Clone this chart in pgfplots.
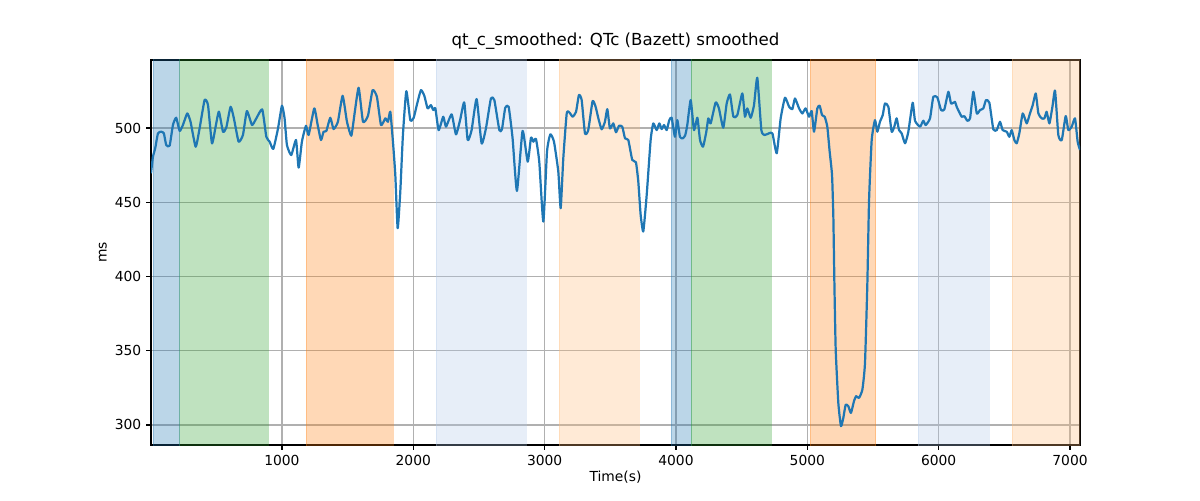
\documentclass[border=0pt]{standalone}
\usepackage{pgfplots}
\pgfplotsset{compat=1.18}
\usepackage{fontspec}
\setmainfont{DejaVu Sans}
\definecolor{tabblue}{HTML}{1F77B4}
\definecolor{tabgreen}{HTML}{2CA02C}
\definecolor{taborange}{HTML}{FF7F0E}
\definecolor{ltblue}{HTML}{AEC7E8}
\definecolor{ltorange}{HTML}{FFBB78}
\definecolor{gridgray}{HTML}{B0B0B0}
\begin{document}
\begin{tikzpicture}
\begin{axis}[
  scale only axis,
  width=9.29in, height=3.85in,
  xmin=3, xmax=7076, ymin=286.5, ymax=545.8,
  xtick={1000,2000,3000,4000,5000,6000,7000},
  ytick={300,350,400,450,500},
  grid=major,
  major grid style={gridgray, line width=0.8pt},
  axis line style={black, line width=0.8pt},
  tick style={black, line width=0.8pt},
  tick align=outside,
  major tick length=3.5pt,
  xtick pos=bottom, ytick pos=left,
  /pgf/number format/assume math mode=true,
  /pgf/number format/1000 sep={},
  ticklabel style={font=\fontsize{10}{12}\selectfont},
  label style={font=\fontsize{10}{12}\selectfont},
  title={qt\_c\_smoothed: QTc (Bazett) smoothed},
  title style={font=\fontsize{12}{14}\selectfont, yshift=-2pt},
  xlabel={Time(s)}, ylabel={ms},
  xlabel style={yshift=3pt},
  ylabel style={yshift=-1pt},
  every axis plot/.append style={line join=round},
]
% shaded spans
\addplot[fill=tabblue, draw=tabblue, fill opacity=0.3, draw opacity=0.3] coordinates {(22,250)(22,600)(220,600)(220,250)} -- cycle;
\addplot[fill=tabgreen, draw=tabgreen, fill opacity=0.3, draw opacity=0.3] coordinates {(220,250)(220,600)(897,600)(897,250)} -- cycle;
\addplot[fill=taborange, draw=taborange, fill opacity=0.3, draw opacity=0.3] coordinates {(1184,250)(1184,600)(1848,600)(1848,250)} -- cycle;
\addplot[fill=ltblue, draw=ltblue, fill opacity=0.3, draw opacity=0.3] coordinates {(2172,250)(2172,600)(2861,600)(2861,250)} -- cycle;
\addplot[fill=ltorange, draw=ltorange, fill opacity=0.3, draw opacity=0.3] coordinates {(3109,250)(3109,600)(3722,600)(3722,250)} -- cycle;
\addplot[fill=tabblue, draw=tabblue, fill opacity=0.3, draw opacity=0.3] coordinates {(3962,250)(3962,600)(4116,600)(4116,250)} -- cycle;
\addplot[fill=tabgreen, draw=tabgreen, fill opacity=0.3, draw opacity=0.3] coordinates {(4116,250)(4116,600)(4722,600)(4722,250)} -- cycle;
\addplot[fill=taborange, draw=taborange, fill opacity=0.3, draw opacity=0.3] coordinates {(5020,250)(5020,600)(5519,600)(5519,250)} -- cycle;
\addplot[fill=ltblue, draw=ltblue, fill opacity=0.3, draw opacity=0.3] coordinates {(5843,250)(5843,600)(6383,600)(6383,250)} -- cycle;
\addplot[fill=ltorange, draw=ltorange, fill opacity=0.3, draw opacity=0.3] coordinates {(6558,250)(6558,600)(7100,600)(7100,250)} -- cycle;
% QTc smoothed
\addplot[tabblue, line width=1.6pt, mark=none, smooth, tension=0.3] coordinates {
(3,469.5)(18,480.7)(35,486.3)(56,496.4)(81,497.5)(101,496.4)(119,488.5)(145,488.1)
(170,502)(195,506.9)(221,498)(246,502)(279,509.8)(304,504.2)(343,487.4)(373,499.7)
(411,518.8)(437,515.4)(467,489.7)(495,500.9)(520,511)(551,497.5)(576,500.2)(609,514.3)
(634,506.5)(670,490.8)(703,495.3)(733,511.4)(772,502)(805,506.5)(850,512.5)(881,494.1)
(906,490.8)(934,485.9)(970,499.7)(1000,515)(1020,506.5)(1038,488.5)(1071,481.8)
(1107,491.9)(1127,473.3)(1152,490.8)(1183,501.5)(1203,495.3)(1246,513.2)(1272,502)
(1297,491.9)(1317,497.5)(1338,498)(1368,506.9)(1393,499.3)(1426,504.2)(1462,521.7)
(1495,504.2)(1528,494.8)(1553,509.8)(1584,527.1)(1617,504.2)(1655,508.3)(1690,525.5)
(1723,521)(1754,502)(1787,506.5)(1807,504.2)(1825,511)(1845,490.8)(1863,468.4)
(1881,432.5)(1901,457.2)(1921,495.3)(1947,524.8)(1977,505.3)(2003,506.9)(2028,515.9)
(2058,525.5)(2084,521.7)(2109,513.2)(2134,515.4)(2152,512.1)(2168,513.2)(2193,498.6)
(2228,507.6)(2249,500.9)(2292,509.2)(2325,495.7)(2358,506)(2388,517.2)(2414,491.9)
(2444,498.6)(2482,519.5)(2520,489.7)(2553,499.7)(2591,519.9)(2617,518.8)(2655,498.6)
(2675,499.1)(2700,513.6)(2726,514.3)(2756,493)(2789,457.6)(2832,498)(2871,477.3)
(2896,493.5)(2914,490.8)(2934,492.6)(2959,477.3)(2990,437)(3018,484.1)(3043,495.7)
(3071,490.8)(3104,470.6)(3122,446)(3142,479.6)(3168,509.8)(3188,510.5)(3213,507.6)
(3239,510.9)(3261,522.2)(3282,518.8)(3307,496.4)(3332,498.6)(3365,518.1)(3388,514.3)
(3409,506.5)(3434,499.1)(3459,504.2)(3477,512.7)(3497,499.7)(3523,503.1)(3543,497.1)
(3566,501.5)(3591,500.9)(3612,493)(3637,491.9)(3667,478.5)(3695,476.9)(3713,463.9)
(3731,441.5)(3751,430.3)(3777,454.9)(3807,491.9)(3827,503.1)(3853,498.6)(3873,503.1)
(3891,499.3)(3909,502)(3929,498.6)(3949,505.3)(3967,506.9)(3992,494.1)(4010,505.3)
(4030,494.1)(4051,493)(4070,495)(4086,502)(4112,518.8)(4137,498.6)(4163,506.9)
(4183,491.9)(4206,487.4)(4231,497.5)(4246,506.5)(4264,503.1)(4302,517.2)(4327,513.2)
(4360,500.2)(4386,516.5)(4411,522.6)(4437,507.6)(4467,508.7)(4505,523.3)(4525,507.6)
(4543,513.2)(4569,506.9)(4594,515.4)(4619,533.8)(4650,498.6)(4675,495.3)(4708,496.4)
(4734,496.4)(4767,483)(4797,506.5)(4830,520.4)(4861,514.3)(4886,512.7)(4906,519.9)
(4937,513.2)(4962,509.8)(4987,513.2)(5013,507.6)(5033,511.4)(5051,497.5)(5076,513.2)
(5094,515)(5112,508.7)(5132,507.6)(5152,500.9)(5170,484.1)(5188,468.4)(5198,440.3)
(5206,395.5)(5216,350.7)(5236,314.8)(5256,299.2)(5274,304.8)(5292,313.7)(5312,312.6)
(5332,308.1)(5355,316)(5371,319.4)(5393,318.2)(5419,323.8)(5439,341.7)(5457,395.5)
(5470,451.6)(5490,491.9)(5515,505.3)(5533,497.5)(5553,504.2)(5574,508.7)(5591,516.5)
(5617,514.3)(5642,497.5)(5662,500.9)(5680,506.5)(5698,498.6)(5718,496.4)(5744,489.7)
(5769,497.5)(5802,517)(5820,504.8)(5858,500.9)(5883,504.9)(5901,502)(5934,506.5)
(5959,521)(5990,520.6)(6018,512.1)(6043,512.5)(6074,524.4)(6094,516.5)(6124,517.6)
(6137,514.3)(6175,507.6)(6195,508)(6218,504.9)(6239,506.5)(6264,524.4)(6290,509.8)
(6315,512.1)(6340,513.2)(6360,518.8)(6386,517)(6416,499.1)(6442,498.6)(6467,504.2)
(6487,498.6)(6518,497.5)(6538,494.1)(6556,498.6)(6576,491.9)(6594,489.7)(6614,496.4)
(6640,509.8)(6670,503.1)(6695,509.8)(6716,515.4)(6739,523.3)(6759,509.8)(6784,506.5)
(6805,506.5)(6822,510.9)(6843,503.1)(6866,514.3)(6886,525.1)(6911,495.3)(6937,491.9)
(6967,508)(6987,498.6)(7013,500.9)(7038,506.5)(7058,490.8)(7076,485.2)
};
\end{axis}
\path (current axis.south west) ++(-1.51in,-0.55in) coordinate (bbsw);
\path (current axis.north east) ++(1.20in,0.60in) coordinate (bbne);
\path (bbsw) rectangle (bbne);
\end{tikzpicture}
\end{document}
